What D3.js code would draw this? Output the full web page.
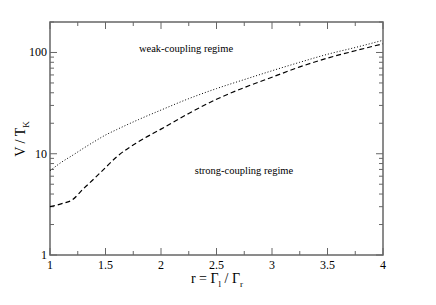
<!DOCTYPE html>
<html>
<head>
<meta charset="utf-8">
<script src="https://cdn.jsdelivr.net/npm/d3@7"></script>
<style>
  body { margin: 0; background: #fff; }
</style>
</head>
<body>
<svg width="436" height="305"></svg>
<script>
// values
var rValues = [1, 1.1, 1.2, 1.3, 1.4, 1.5, 1.6, 1.8, 2, 2.25, 2.5, 2.75, 3, 3.25, 3.5, 3.75, 4];
var weakCurve = [6.8, 8.2, 9.6, 11.3, 13.2, 15.3, 17.3, 21.8, 27, 35, 44, 54, 66, 80, 96, 112, 132];
var strongCurve = [3.0, 3.2, 3.5, 4.5, 5.7, 7.3, 9.3, 13.2, 17.5, 25, 34.5, 45, 57, 72, 88, 104, 122];
var xTicks = [1, 1.5, 2, 2.5, 3, 3.5, 4];
var yTicks = [1, 10, 100];

var svg = d3.select("svg");
var margin = {left: 50, right: 53, top: 22, bottom: 50};
var w = 436 - margin.left - margin.right;
var h = 305 - margin.top - margin.bottom;

var x = d3.scaleLinear().domain([1, 4]).range([margin.left, margin.left + w]);
var y = d3.scaleLog().domain([1, 200]).range([margin.top + h, margin.top]);

var axisColor = "#666";
var serif = "'Liberation Serif', 'Times New Roman', serif";
svg.style("font-family", serif);

// minor ticks
var xMinor = d3.range(1, 4.01, 0.25).filter(function(d){ return xTicks.indexOf(d) < 0; });
var yMinor = [];
[1, 10, 100].forEach(function(dec){
  for (var k = 2; k <= 9; k++) {
    if (dec * k <= 200) yMinor.push(dec * k);
  }
});

var g = svg.append("g");

// x ticks, bottom and top, pointing inward
xTicks.forEach(function(d){
  g.append("line").attr("x1", x(d)).attr("x2", x(d))
    .attr("y1", y(1)).attr("y2", y(1) - 7).attr("stroke", axisColor);
  g.append("line").attr("x1", x(d)).attr("x2", x(d))
    .attr("y1", y(200)).attr("y2", y(200) + 7).attr("stroke", axisColor);
});
xMinor.forEach(function(d){
  g.append("line").attr("x1", x(d)).attr("x2", x(d))
    .attr("y1", y(1)).attr("y2", y(1) - 4).attr("stroke", axisColor);
  g.append("line").attr("x1", x(d)).attr("x2", x(d))
    .attr("y1", y(200)).attr("y2", y(200) + 4).attr("stroke", axisColor);
});

// y ticks, left and right
yTicks.forEach(function(d){
  g.append("line").attr("x1", x(1)).attr("x2", x(1) + 7)
    .attr("y1", y(d)).attr("y2", y(d)).attr("stroke", axisColor);
  g.append("line").attr("x1", x(4)).attr("x2", x(4) - 7)
    .attr("y1", y(d)).attr("y2", y(d)).attr("stroke", axisColor);
});
yMinor.forEach(function(d){
  g.append("line").attr("x1", x(1)).attr("x2", x(1) + 4)
    .attr("y1", y(d)).attr("y2", y(d)).attr("stroke", axisColor);
  g.append("line").attr("x1", x(4)).attr("x2", x(4) - 4)
    .attr("y1", y(d)).attr("y2", y(d)).attr("stroke", axisColor);
});

// frame
g.append("rect")
  .attr("x", margin.left).attr("y", margin.top)
  .attr("width", w).attr("height", h)
  .attr("fill", "none").attr("stroke", axisColor).attr("stroke-width", 1.5);

// tick labels
g.selectAll(".xlab").data(xTicks).enter().append("text")
  .attr("class", "xlab")
  .attr("x", function(d){ return x(d); })
  .attr("y", y(1) + 14)
  .attr("text-anchor", "middle")
  .style("font-family", serif)
  .attr("font-size", 12)
  .text(function(d){ return d; });

g.selectAll(".ylab").data(yTicks).enter().append("text")
  .attr("class", "ylab")
  .attr("x", x(1) - 3)
  .attr("y", function(d){ return y(d) + 4; })
  .attr("text-anchor", "end")
  .style("font-family", serif)
  .attr("font-size", 12)
  .text(function(d){ return d; });

// curves
var line = d3.line()
  .x(function(d){ return x(d[0]); })
  .y(function(d){ return y(d[1]); })
  .curve(d3.curveMonotoneX);

svg.append("path")
  .datum(d3.zip(rValues, weakCurve))
  .attr("d", line)
  .attr("fill", "none")
  .attr("stroke", "#000")
  .attr("stroke-width", 1)
  .attr("stroke-dasharray", "1,2");

svg.append("path")
  .datum(d3.zip(rValues, strongCurve))
  .attr("d", line)
  .attr("fill", "none")
  .attr("stroke", "#000")
  .attr("stroke-width", 1.2)
  .attr("stroke-dasharray", "5,3");

// annotations
svg.append("text").attr("x", 186).attr("y", 52)
  .attr("text-anchor", "middle").attr("font-size", 10.5)
  .style("font-family", serif)
  .text("weak-coupling regime");
svg.append("text").attr("x", 244).attr("y", 174)
  .attr("text-anchor", "middle").attr("font-size", 10.5)
  .style("font-family", serif)
  .text("strong-coupling regime");

// axis titles
var xt = svg.append("text").attr("x", 217).attr("y", 283)
  .attr("text-anchor", "middle").attr("font-size", 14)
  .style("font-family", serif);
xt.append("tspan").text("r = Γ");
xt.append("tspan").attr("dy", 4).attr("font-size", 9).text("l");
xt.append("tspan").attr("dy", -4).text(" / Γ");
xt.append("tspan").attr("dy", 4).attr("font-size", 9).text("r");

var yt = svg.append("text")
  .attr("transform", "translate(25,139) rotate(-90)")
  .attr("text-anchor", "middle").attr("font-size", 14)
  .style("font-family", serif);
yt.append("tspan").text("V / T");
yt.append("tspan").attr("dy", 4).attr("font-size", 9).text("K");
</script>
</body>
</html>
